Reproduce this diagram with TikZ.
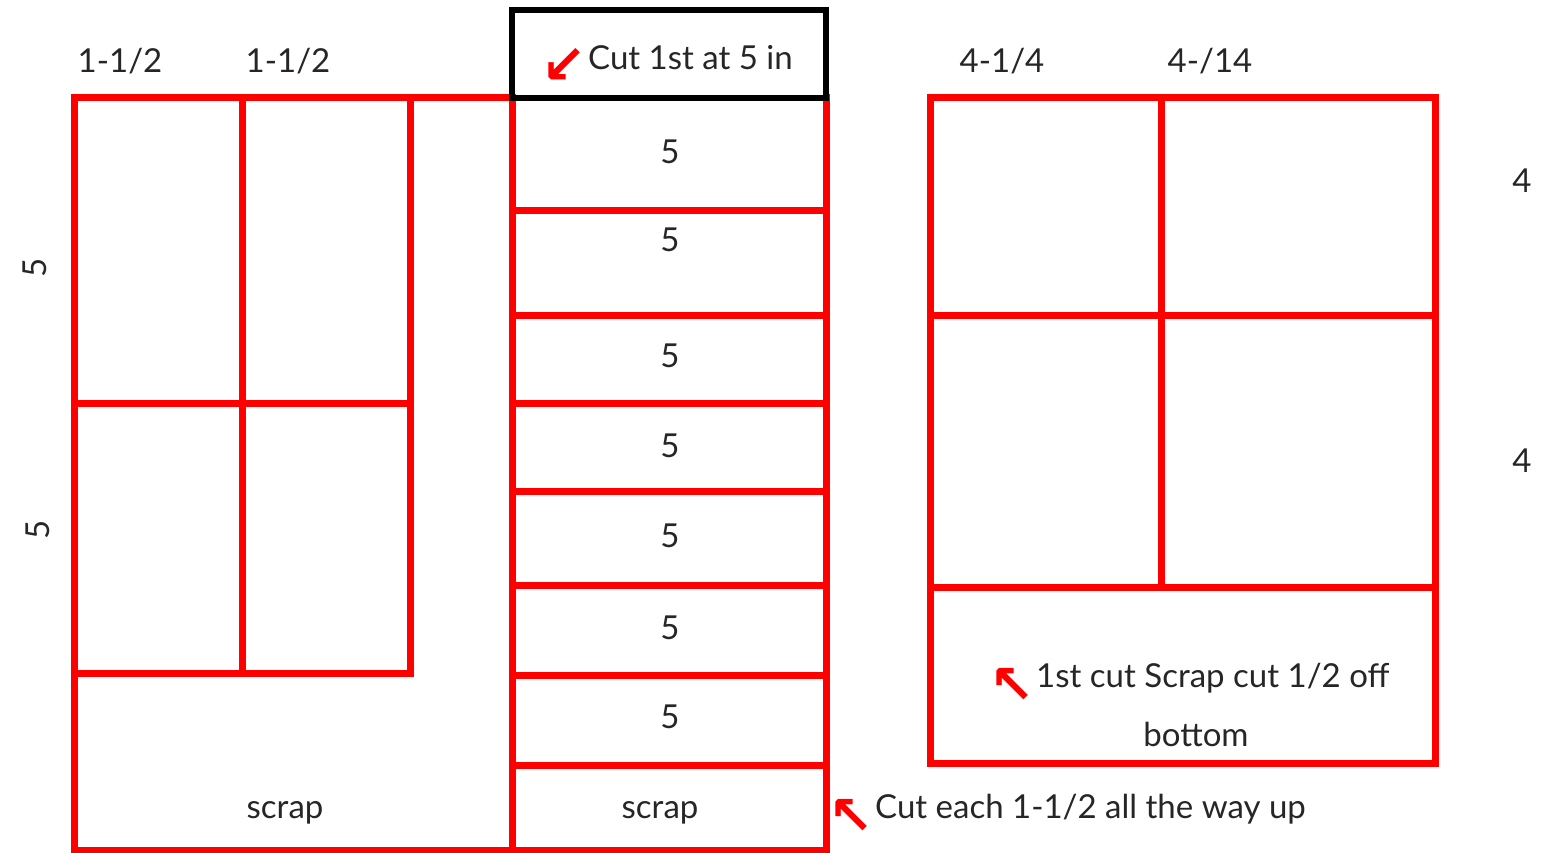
\documentclass[tikz,border=0pt]{standalone}
\usepackage{fontspec}
\setmainfont{Lato}
\newfontfamily\arrowfont{DejaVu Sans}
\begin{document}
\begin{tikzpicture}[x=1pt,y=-1pt,
  cutline/.style={draw=red,line width=7pt,line cap=rect},
  boxline/.style={draw=black,line width=6pt,line cap=rect},
  lbl/.style={font=\fontsize{33}{40}\selectfont,text=black!85,inner sep=0pt},
  arr/.style={text=red,inner sep=0pt,font=\arrowfont\bfseries\fontsize{54}{60}\selectfont}]
\useasboundingbox (0,0) rectangle (1546,853);
% left panel
\draw[cutline] (74,98) -- (512,98);
\draw[cutline] (74,98) -- (74,850) -- (826,850);
\draw[cutline] (242,98) -- (242,673);
\draw[cutline] (410,98) -- (410,673);
\draw[cutline] (74,403) -- (410,403);
\draw[cutline] (74,673) -- (410,673);
% middle column
\draw[cutline] (512,98) -- (512,850);
\draw[cutline] (826,98) -- (826,850);
\foreach \y in {210,315,403,491,585,675,765}
  \draw[cutline] (512,\y) -- (826,\y);
\draw[boxline] (512,10) rectangle (826,98);
% right panel
\draw[cutline] (930,98) rectangle (1435,763);
\draw[cutline] (930,315) -- (1435,315);
\draw[cutline] (930,587) -- (1435,587);
\draw[cutline] (1161,98) -- (1161,587);
% labels
\node[lbl] (t1) at (120,61) {1-1/2};
\node[lbl] (t2) at (288,61) {1-1/2};
\node[lbl] (t3) at (1002,61) {4-1/4};
\node[lbl] (t4) at (1210,61) {4-/14};
\node[lbl,rotate=90] (s1) at (35,268) {5};
\node[lbl,rotate=90] (s2) at (38,530) {5};
\node[lbl] (f1) at (1522,181) {4};
\node[lbl] (f2) at (1522,461) {4};
\foreach \y/\n in {152/a,240/b,356/c,446/d,536/e,628/f,717/g}
  \node[lbl] (m\n) at (670,\y) {5};
\node[lbl] (sc1) at (285,813) {scrap};
\node[lbl] (sc2) at (660,813) {scrap};
\node[lbl,anchor=west] (cut1) at (588,58) {Cut 1st at 5 in};
\node[arr,anchor=east] (a1) at ([xshift=-1pt,yshift=-8pt]cut1.west) {↙};
\node[lbl,anchor=west] (cut2) at (1036,678) {1st cut Scrap cut 1/2 off};
\node[arr,anchor=east] (a2) at ([xshift=-1pt,yshift=-8pt]cut2.west) {↖};
\node[lbl] (bot) at (1196,734) {bottom};
\node[lbl,anchor=west] (cut3) at (875,809) {Cut each 1-1/2 all the way up};
\node[arr,anchor=east] (a3) at ([xshift=-1pt,yshift=-8pt]cut3.west) {↖};
\end{tikzpicture}
\end{document}
